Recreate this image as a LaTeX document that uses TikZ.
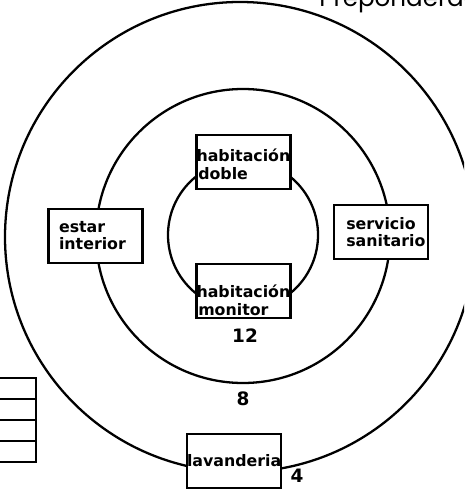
\documentclass[tikz,border=0pt]{standalone}
\usepackage{fontspec}
\setmainfont{DejaVu Sans}
\newfontfamily\titlefont{Poppins}
\tikzset{
  room/.style={draw, fill=white, line width=1.3pt, minimum width=1.88cm,
    minimum height=1.08cm, text width=1.88cm, align=left, inner sep=0pt,
    font=\fontsize{9}{10}\selectfont\bfseries},
  ring/.style={line width=1.3pt},
  shelf/.style={draw, line width=1.3pt, minimum width=1.12cm, minimum height=0.42cm, inner sep=0pt},
  dist/.style={font=\fontsize{10.5}{12}\selectfont\bfseries}
}
\begin{document}
\begin{tikzpicture}[x=0.02cm, y=-0.02cm]
    \useasboundingbox (0,0) rectangle (464,489);
    \clip (0,0) rectangle (464,489);
    % rings around the two bedrooms
    \draw[ring] (240,237) circle[radius=235];
    \draw[ring] (243,236) circle[radius=147];
    \draw[ring] (243,235) circle[radius=75];
    % rooms
    \node[room] (doble) at (243.5,162) {\hspace{1pt}habitación\\\hspace{1pt}doble\\[4pt]};
    \node[room] (monitor) at (243.5,291) {\\[-2pt]\hspace{1pt}habitación\\\hspace{1pt}monitor};
    \node[room] (estar) at (95.5,236) {\\[-4pt]\hspace{6pt}estar\\\hspace{6pt}interior};
    \node[room] (servicio) at (381,232) {\hspace{7pt}servicio\\\hspace{7pt}sanitario};
    \node[room] (lavanderia) at (234,461) {lavanderia};
    % distances
    \node[dist] (d12) at (245,336) {12};
    \node[dist] (d8) at (243,399) {8};
    \node[dist] (d4) at (297,476) {4};
    % shelves on the left
    \foreach \i in {0,...,3}
      \node[shelf] (shelf\i) at (8,388.5+21*\i) {};
    \node[anchor=base west, inner sep=0pt, font=\titlefont\fontsize{14}{16}\selectfont] (title) at (319,7) {Preponderación};
\end{tikzpicture}
\end{document}
